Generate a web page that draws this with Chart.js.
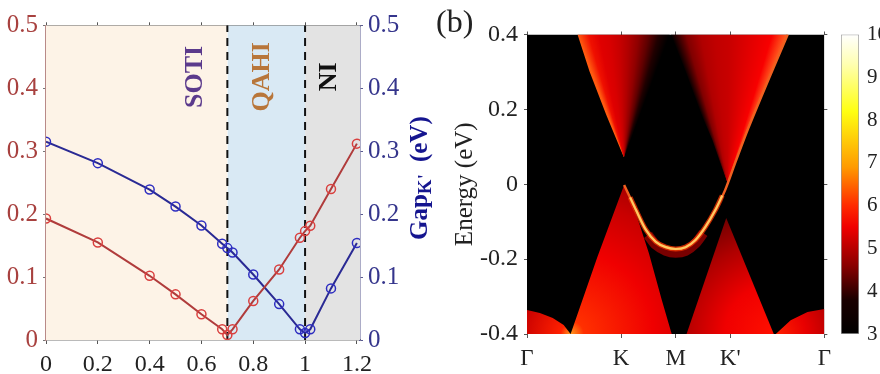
<!DOCTYPE html>
<html>
<head>
<meta charset="utf-8">
<script src="https://cdn.jsdelivr.net/npm/chart.js@4"></script>
<style>
  html, body { margin: 0; padding: 0; background: #fff; overflow: hidden; }
  body { position: relative; width: 880px; height: 374px; }
  canvas { position: absolute; top: 0; filter: blur(0.5px); }
  #panelB { position: absolute; left: 436px; top: 3px; font: 32px "Liberation Serif"; color: #222; }
</style>
</head>
<body>
<canvas id="gapChart" width="440" height="374" style="left:0"></canvas>
<canvas id="bandChart" width="403" height="374" style="left:435px"></canvas>
<canvas id="barChart" width="50" height="374" style="left:830px"></canvas>
<div id="panelB">(b)</div>
<script>
// left panel, values
const strain = [0, 0.2, 0.4, 0.5, 0.6, 0.68, 0.7, 0.72, 0.8, 0.9, 0.98, 1, 1.02, 1.1, 1.2];
const gapK = [0.193, 0.155, 0.102, 0.0725, 0.041, 0.017, 0.008, 0.017, 0.062, 0.112, 0.1625, 0.173, 0.1815, 0.24, 0.312];
const gapKPrime = [0.315, 0.281, 0.239, 0.212, 0.182, 0.153, 0.146, 0.139, 0.104, 0.057, 0.017, 0.011, 0.017, 0.082, 0.154];
const strainTicks = [0, 0.2, 0.4, 0.6, 0.8, 1, 1.2];
const gapTicks = [0, 0.1, 0.2, 0.3, 0.4, 0.5];
const phaseEdges = [0, 0.7, 1, 1.212];
const phaseColors = ['#fdf3e7', '#d9e9f4', '#e3e3e3'];

// right panel, outlines of the bright regions as [k, energy]
const kTicks = [0, 95, 150, 205, 300];
const kLabels = ['Γ', 'K', 'M', "K'", 'Γ'];
const energyTicks = [-0.4, -0.2, 0, 0.2, 0.4];
const upperLeft = [[51, 0.4], [63, 0.302], [80, 0.185], [98, 0.07], [113, 0.177], [133, 0.319], [144, 0.4], [51, 0.4]];
const upperRight = [[145, 0.4], [160, 0.302], [176, 0.185], [187, 0.118], [202, 0.003], [213, 0.078], [223, 0.148], [243, 0.276], [263, 0.4], [145, 0.4]];
const lowerLeft = [[98, -0.002], [113, -0.103], [123, -0.184], [136, -0.309], [146, -0.4], [44, -0.4], [71, -0.194], [98, -0.002]];
const lowerRight = [[201, -0.09], [161, -0.4], [249, -0.4], [201, -0.09]];
const lobeLeft = [[0, -0.4], [0, -0.336], [13, -0.344], [26, -0.357], [37, -0.376], [44, -0.4], [0, -0.4]];
const lobeRight = [[251, -0.4], [266, -0.363], [283, -0.341], [300, -0.333], [300, -0.4], [251, -0.4]];
const bandCurve = [[98, -0.002], [110, -0.069], [120, -0.122], [130, -0.154], [140, -0.168], [150, -0.173], [160, -0.168], [170, -0.149], [180, -0.114], [190, -0.069], [200, -0.015], [210, 0.057], [223, 0.148], [243, 0.276], [263, 0.4]];
const bandBright = [[104, -0.035], [110, -0.069], [120, -0.122], [130, -0.154], [140, -0.168], [150, -0.173], [160, -0.168], [170, -0.149], [180, -0.114], [190, -0.069], [197, -0.03]];
const bandGlow = [[122, -0.135], [130, -0.162], [140, -0.178], [150, -0.183], [160, -0.178], [170, -0.158], [178, -0.13]];
const plotFrame = [[0, 0.4], [300, 0.4], [300, -0.4], [0, -0.4], [0, 0.4]];

// colour bar
const barTicks = [3, 4, 5, 6, 7, 8, 9, 10];
const barRange = [3, 10];
const barStops = [[3, '#000000'], [3.8, '#1a0000'], [4.6, '#8a0000'], [5.5, '#f00000'], [6, '#ff2a00'], [6.9, '#ff9a00'], [8.2, '#ffff10'], [9.3, '#ffffb0'], [10, '#ffffff']];

const SERIF = '"Liberation Serif", serif';
const toPoints = (pairs) => pairs.map((p) => ({ x: p[0], y: p[1] }));

function useTicks(values) {
  return function (axis) {
    axis.ticks = values.map((v) => ({ value: v }));
  };
}

// soft colour fan around the tip of a wedge
function fanFill(tip, from, to, colors) {
  return function (ctx) {
    const { chart } = ctx;
    if (!chart.chartArea) return 'transparent';
    const { x, y } = chart.scales;
    const cx = x.getPixelForValue(tip[0]);
    const cy = y.getPixelForValue(tip[1]);
    const a = Math.atan2(y.getPixelForValue(from[1]) - cy, x.getPixelForValue(from[0]) - cx);
    const b = Math.atan2(y.getPixelForValue(to[1]) - cy, x.getPixelForValue(to[0]) - cx);
    const start = Math.min(a, b) - 0.2;
    const sweep = Math.abs(b - a) / (Math.PI * 2);
    const g = chart.ctx.createConicGradient(start, cx, cy);
    colors.forEach((c, i) => {
      const t = i / (colors.length - 1);
      g.addColorStop(Math.min(1, 0.2 / (Math.PI * 2) + sweep * (a < b ? t : 1 - t)), c);
    });
    return g;
  };
}

// round glow from a point on the bottom of the plot
function glowFill(center, radius, stops) {
  return function (ctx) {
    const { chart } = ctx;
    if (!chart.chartArea) return 'transparent';
    const { x, y } = chart.scales;
    const cx = x.getPixelForValue(center[0]);
    const cy = y.getPixelForValue(center[1]);
    const g = chart.ctx.createRadialGradient(cx, cy, 0, cx, cy, radius);
    stops.forEach((s) => g.addColorStop(s[0], s[1]));
    return g;
  };
}

function phaseSets() {
  const sets = phaseColors.map((c, i) => ({
    data: [{ x: phaseEdges[i], y: 0.5 }, { x: phaseEdges[i + 1], y: 0.5 }],
    yAxisID: 'y',
    showLine: true,
    fill: 'origin',
    backgroundColor: c,
    borderWidth: 0,
    pointRadius: 0,
    order: 10,
  }));
  [phaseEdges[1], phaseEdges[2]].forEach((e) => {
    sets.push({
      data: [{ x: e, y: 0 }, { x: e, y: 0.5 }],
      yAxisID: 'y',
      showLine: true,
      borderColor: '#111',
      borderWidth: 2,
      borderDash: [8, 6],
      pointRadius: 0,
      order: 5,
    });
  });
  return sets;
}

function curve(values, line, dot) {
  return {
    data: strain.map((s, i) => ({ x: s, y: values[i] })),
    yAxisID: 'y',
    showLine: true,
    borderColor: line,
    borderWidth: 2,
    pointRadius: 4.5,
    pointBorderColor: dot,
    pointBorderWidth: 1.5,
    pointBackgroundColor: 'transparent',
    order: 1,
  };
}

const phaseLabels = {
  id: 'phaseLabels',
  afterDatasetsDraw(chart) {
    const { ctx, scales } = chart;
    const items = [
      ['SOTI', 0.575, '#5b3a8c'],
      ['QAHI', 0.834, '#b8763a'],
      ['NI', 1.092, '#111'],
    ];
    items.forEach((it) => {
      ctx.save();
      ctx.translate(scales.x.getPixelForValue(it[1]), scales.y.getPixelForValue(0.418));
      ctx.rotate(-Math.PI / 2);
      ctx.font = 'bold 26px ' + SERIF;
      ctx.fillStyle = it[2];
      ctx.textAlign = 'center';
      ctx.textBaseline = 'middle';
      ctx.fillText(it[0], 0, 0);
      ctx.restore();
    });
    // right axis title with its subscript
    ctx.save();
    ctx.translate(427, 240);
    ctx.rotate(-Math.PI / 2);
    ctx.fillStyle = '#15158f';
    ctx.textBaseline = 'alphabetic';
    ctx.font = 'bold 25px ' + SERIF;
    ctx.fillText('Gap', 0, 0);
    let w = ctx.measureText('Gap').width;
    ctx.font = 'bold 19px ' + SERIF;
    ctx.fillText("K'", w, 4);
    w += ctx.measureText("K'").width + 12;
    ctx.font = 'bold 25px ' + SERIF;
    ctx.fillText('(eV)', w, 0);
    ctx.restore();
  },
};

new Chart(document.getElementById('gapChart'), {
  type: 'scatter',
  data: {
    datasets: [...phaseSets(), curve(gapK, '#b03c3c', '#d9403f'), curve(gapKPrime, '#2a2a94', '#2d2dc0')],
  },
  plugins: [phaseLabels],
  options: {
    responsive: false,
    animation: false,
    layout: { autoPadding: false, padding: 0 },
    plugins: { legend: { display: false }, tooltip: { enabled: false } },
    scales: {
      x: {
        type: 'linear',
        position: 'bottom',
        min: 0,
        max: 1.212,
        afterBuildTicks: useTicks(strainTicks),
        afterFit(s) { s.height = 34; },
        border: { color: '#777', width: 1.5 },
        grid: { drawOnChartArea: false, tickLength: 4, color: '#555' },
        ticks: { color: '#222', font: { family: SERIF, size: 24 }, padding: 6, maxRotation: 0, autoSkip: false, callback: (v) => String(v) },
      },
      xTop: {
        type: 'linear',
        position: 'top',
        min: 0,
        max: 1.212,
        afterBuildTicks: useTicks(strainTicks),
        afterFit(s) { s.height = 25.3; },
        border: { color: '#777', width: 1.5 },
        grid: { drawOnChartArea: false, tickLength: 3, color: '#555' },
        ticks: { display: false },
      },
      y: {
        position: 'left',
        min: 0,
        max: 0.5,
        afterBuildTicks: useTicks(gapTicks),
        afterFit(s) { s.width = 46; },
        border: { color: '#b98a88', width: 1.5 },
        grid: { drawOnChartArea: false, tickLength: 3, color: '#777' },
        ticks: { color: '#a8413f', font: { family: SERIF, size: 25 }, padding: 5, callback: (v) => String(v) },
      },
      yRight: {
        position: 'right',
        min: 0,
        max: 0.5,
        afterBuildTicks: useTicks(gapTicks),
        afterFit(s) { s.width = 80; },
        border: { color: '#5a5a90', width: 1.5 },
        grid: { drawOnChartArea: false, tickLength: 3, color: '#5a5a90' },
        ticks: { color: '#35358c', font: { family: SERIF, size: 25 }, padding: 5, callback: (v) => String(v) },
      },
    },
  },
});

function region(points, fill, order) {
  return {
    data: toPoints(points),
    showLine: true,
    fill: 'shape',
    backgroundColor: fill,
    borderWidth: 0,
    pointRadius: 0,
    order: order,
  };
}

function ridge(points, width, color, order) {
  return {
    data: toPoints(points),
    showLine: true,
    borderColor: color,
    borderWidth: width,
    tension: 0.3,
    pointRadius: 0,
    order: order,
  };
}

new Chart(document.getElementById('bandChart'), {
  type: 'scatter',
  data: {
    datasets: [
      region(plotFrame, '#000', 20),
      region(upperLeft, fanFill([98, 0.07], [51, 0.4], [144, 0.4], ['#ff5a10', '#f01000', '#e00000', '#d80000', '#c80000', '#b00000', '#900000', '#600000', '#200000', '#000']), 10),
      region(upperRight, fanFill([202, 0.003], [145, 0.4], [263, 0.4], ['#000', '#800000', '#b00000', '#c00000', '#c80000', '#d80000', '#e80000', '#f80000', '#ff6020']), 10),
      region(lowerLeft, glowFill([44, -0.4], 165, [[0, '#ff9a20'], [0.08, '#ff3000'], [0.5, '#f00000'], [0.8, '#c80000'], [1, '#a00000']]), 10),
      region(lowerRight, glowFill([249, -0.4], 140, [[0, '#ff1000'], [0.35, '#f00000'], [0.65, '#b00000'], [0.9, '#700000'], [1, '#500000']]), 10),
      region(lobeLeft, glowFill([44, -0.4], 50, [[0, '#ff9a20'], [0.2, '#ff2000'], [1, '#c80000']]), 10),
      region(lobeRight, glowFill([251, -0.4], 60, [[0, '#ff2000'], [0.5, '#e80000'], [1, '#b00000']]), 10),
      ridge(bandGlow, 10, 'rgba(150,0,0,0.8)', 6),
      ridge(bandBright, 5, 'rgba(235,50,0,0.8)', 5),
      ridge(bandCurve, 2.5, '#f06020', 4),
      ridge(bandBright, 2.2, '#ffc860', 3),
    ],
  },
  options: {
    responsive: false,
    animation: false,
    layout: { autoPadding: false, padding: 0 },
    plugins: { legend: { display: false }, tooltip: { enabled: false } },
    scales: {
      x: {
        type: 'linear',
        position: 'bottom',
        min: 0,
        max: 300,
        afterBuildTicks: useTicks(kTicks),
        afterFit(s) { s.height = 40; },
        border: { display: false },
        grid: { drawOnChartArea: false, tickLength: 4, color: '#555' },
        ticks: { color: '#222', font: { family: SERIF, size: 23 }, padding: 7, maxRotation: 0, autoSkip: false, callback: (v, i) => kLabels[i] },
      },
      xTop: {
        type: 'linear',
        position: 'top',
        min: 0,
        max: 300,
        afterBuildTicks: useTicks(kTicks),
        afterFit(s) { s.height = 34.5; },
        border: { display: false },
        grid: { drawOnChartArea: false, tickLength: 3, color: '#555' },
        ticks: { display: false },
      },
      y: {
        position: 'left',
        min: -0.4,
        max: 0.4,
        afterBuildTicks: useTicks(energyTicks),
        afterFit(s) { s.width = 92; },
        border: { display: false },
        grid: { drawOnChartArea: false, tickLength: 3, color: '#555' },
        title: { display: true, text: 'Energy (eV)', color: '#222', font: { family: SERIF, size: 25 }, padding: { top: 15, bottom: 0 } },
        ticks: { color: '#222', font: { family: SERIF, size: 24 }, padding: 6, callback: (v) => String(v) },
      },
      yRight: {
        position: 'right',
        min: -0.4,
        max: 0.4,
        afterBuildTicks: useTicks(energyTicks),
        afterFit(s) { s.width = 11; },
        border: { display: false },
        grid: { drawOnChartArea: false, tickLength: 3, color: '#555' },
        ticks: { display: false },
      },
    },
  },
});

new Chart(document.getElementById('barChart'), {
  type: 'bar',
  data: {
    labels: [''],
    datasets: [{
      data: [barRange],
      barPercentage: 1,
      categoryPercentage: 1,
      borderColor: '#999',
      borderWidth: 1,
      borderSkipped: false,
      backgroundColor(ctx) {
        const { chart } = ctx;
        if (!chart.chartArea) return 'transparent';
        const { y } = chart.scales;
        const g = chart.ctx.createLinearGradient(0, y.getPixelForValue(barRange[0]), 0, y.getPixelForValue(barRange[1]));
        barStops.forEach((s) => g.addColorStop((s[0] - barRange[0]) / (barRange[1] - barRange[0]), s[1]));
        return g;
      },
    }],
  },
  options: {
    responsive: false,
    animation: false,
    layout: { autoPadding: false, padding: { left: 11, top: 34.5, bottom: 40 } },
    plugins: { legend: { display: false }, tooltip: { enabled: false } },
    scales: {
      x: { display: false },
      y: {
        position: 'right',
        min: barRange[0],
        max: barRange[1],
        afterBuildTicks: useTicks(barTicks),
        afterFit(s) { s.width = 21; },
        border: { display: false },
        grid: { display: false },
        ticks: { color: '#222', font: { family: SERIF, size: 21 }, padding: 0, callback: (v) => String(v) },
      },
    },
  },
});
</script>
</body>
</html>
